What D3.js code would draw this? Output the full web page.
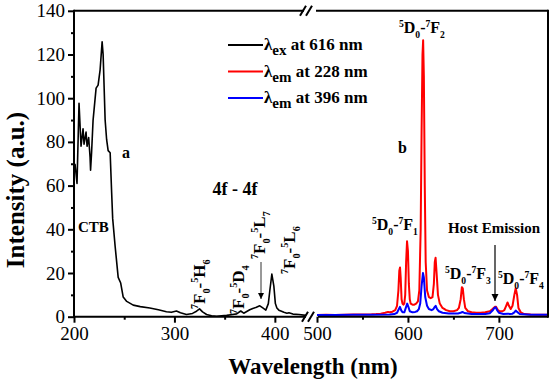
<!DOCTYPE html>
<html><head><meta charset="utf-8">
<script src="https://cdn.jsdelivr.net/npm/d3@7"></script>
<style>body{margin:0;background:#fff}svg{display:block}</style>
</head><body>
<svg id="c" width="552" height="383"></svg>
<script>
// ---- data ----
const yTicks = [0, 20, 40, 60, 80, 100, 120, 140];
const xTicksLeft = [200, 300, 400];
const xTicksRight = [500, 600, 700];
const excNm = [201,203,205,207,209,210,212,213,214.6,216,216.5,217.5,219,222,224,226,228,229,231,232.5,234,236,237.5,238.5,241,244,246.5,249,252.5,259,266,275.5,284,292,297,302,306,312,318,322,325,328,332,337,342,347,352,358,362,366,369,372,375,378,381,385,388,391,393.5,395,397,399,400.5,402,404,406,409,412,414,418,424,431];
const excVal = [70,61,97.7,78,86,79,84.5,78,82,73,67,75,90,104.6,106,113,125.8,120,90,81,76,75,56.6,45,32,18,15.4,9,7,5.3,4.6,4,3.2,2.3,2,2.6,1.8,1,1.5,2.5,3.6,2.2,1,0.4,0.2,0.4,0.6,1,1.3,2.6,1.6,2.4,3.2,3.8,4.2,5,4,3,6,12,19.5,14,6,4,3,2.6,2,1.6,1.8,1.2,1,0.6];
const emRedNm = [500,510,520,530,540,550,560,565,570,575,578,580,583,586,588,589.5,590.5,591.3,592,593,594,595,596,597,598,599,600,601,602,603,605,607,609,611,612.5,614,615,616,616.7,617.5,618.5,619.5,621,623,625,627,628.5,629.5,630.4,631.5,633,635,638,642,646,650,654,656,658,659.3,660.3,661.5,663,666,670,675,680,685,690,693,695.5,697,699,701,704,706,708,709.5,711,713,715,717,718.5,720,721.5,724,728,735,745,754];
const emRedVal = [0.8,0.9,0.8,0.9,1.0,1.0,1.1,1.2,1.4,1.8,2.2,2.0,2.3,3.0,5,12,21,22.5,18,8,6,5.5,6,10,25,34.5,30,15,8,6,5.5,5.5,6,7,12,40,85,120,126.5,110,60,25,12,9,8.5,9,15,25,27,20,10,6,4,3,2.5,2.5,3,4,8,13.5,13,8,4,2.5,2,1.8,1.8,2,2.5,3.5,4.5,4.5,3,2.5,2.5,3,5,6.5,5,3.5,5,10,13,10,4,2,1.2,1,0.9,0.9];
const emBlueNm = [500,520,540,560,580,585,588,590,591.2,592.5,594,596,598,599.2,600.5,602,605,608,610,612,613.5,615,616.5,617.5,619,621,623,626,628,629.5,630.5,632,634,638,645,655,658,660,662,670,685,690,693,695,696.5,698,700,705,710,712,715,717,718.5,720,723,735,754];
const emBlueVal = [0.8,0.8,0.9,0.9,1.0,1.2,1.8,3.5,4.5,3,2,2,4.5,6,4.5,2.5,2,2.2,2.5,3.5,6,14,20,18,9,5,3.5,3,3.5,4.5,5,3.5,2.5,1.8,1.5,1.5,1.8,2.2,1.7,1.2,1.2,1.6,2.8,4,4.3,3,1.8,1.2,1.4,1.2,1.4,2,2.8,2.2,1.2,0.9,0.9];
const legendLabels = [["ex", " at 616 nm"], ["em", " at 228 nm"], ["em", " at 396 nm"]];
const legendColors = ["#000000", "#ff0000", "#0000ff"];

const FONT = '"Liberation Serif"';
// ---- scales ----
const svg = d3.select("#c");
const L = 74, R = 548, T = 10.8, B = 316.7;
const xL = d3.scaleLinear().domain([200, 432]).range([L, 307]);
const xR = d3.scaleLinear().domain([500, 754]).range([317, R]);
const y = d3.scaleLinear().domain([0, 140]).range([B, T]);

// ---- curves ----
const line = (xs) => d3.line().x(d => xs(d[0])).y(d => y(d[1]));
const zip = (a, b) => a.map((v, i) => [v, b[i]]);
svg.append("path").datum(zip(excNm, excVal)).attr("d", line(xL)).attr("fill", "none").attr("stroke", "#000").attr("stroke-width", 1.6).attr("stroke-linejoin","round");
svg.append("path").datum(zip(emRedNm, emRedVal)).attr("d", line(xR)).attr("fill", "none").attr("stroke", "#ff0000").attr("stroke-width", 2).attr("stroke-linejoin","round");
svg.append("path").datum(zip(emBlueNm, emBlueVal)).attr("d", line(xR)).attr("fill", "none").attr("stroke", "#0000ff").attr("stroke-width", 2).attr("stroke-linejoin","round");

// ---- axes ----
function styleAxis(g) {
  g.select(".domain").remove();
  g.selectAll("line").attr("stroke", "#000").attr("stroke-width", 2);
  g.selectAll("text").attr("font-size", 19).attr("fill", "#000").style("font-family", FONT);
}
const ay = svg.append("g").attr("transform", `translate(${L},0)`).call(d3.axisLeft(y).tickValues(yTicks).tickSize(6).tickPadding(3).tickFormat(d3.format("d")));
styleAxis(ay);
const ayMinor = svg.append("g").attr("transform", `translate(${L},0)`).call(d3.axisLeft(y).tickValues([10,30,50,70,90,110,130]).tickSize(3).tickFormat(""));
styleAxis(ayMinor);
const axL = svg.append("g").attr("transform", `translate(0,${B})`).call(d3.axisBottom(xL).tickValues(xTicksLeft).tickSize(6).tickPadding(4).tickFormat(d3.format("d")));
styleAxis(axL);
const axLm = svg.append("g").attr("transform", `translate(0,${B})`).call(d3.axisBottom(xL).tickValues([250, 350]).tickSize(3).tickFormat(""));
styleAxis(axLm);
const axR = svg.append("g").attr("transform", `translate(0,${B})`).call(d3.axisBottom(xR).tickValues(xTicksRight).tickSize(6).tickPadding(4).tickFormat(d3.format("d")));
styleAxis(axR);
const axRm = svg.append("g").attr("transform", `translate(0,${B})`).call(d3.axisBottom(xR).tickValues([550, 650]).tickSize(3).tickFormat(""));
styleAxis(axRm);

// frame with breaks
const fr = svg.append("g").attr("stroke", "#000").attr("stroke-width", 2).attr("fill", "none");
fr.append("line").attr("x1", L).attr("x2", L).attr("y1", T - 1).attr("y2", B + 1);
fr.append("line").attr("x1", R).attr("x2", R).attr("y1", T - 1).attr("y2", B + 1);
fr.append("line").attr("x1", L).attr("x2", 304).attr("y1", T).attr("y2", T);
fr.append("line").attr("x1", 316).attr("x2", R).attr("y1", T).attr("y2", T);
fr.append("line").attr("x1", L).attr("x2", 306).attr("y1", B).attr("y2", B);
fr.append("line").attr("x1", 318).attr("x2", R).attr("y1", B).attr("y2", B);
[[303, T], [309, T], [305, B], [311, B]].forEach(([cx, cy]) => {
  fr.append("line").attr("x1", cx - 3).attr("x2", cx + 3).attr("y1", cy + 5).attr("y2", cy - 5);
});

function txt(x, yv, s, size, anchor) {
  return svg.append("text").attr("x", x).attr("y", yv).attr("text-anchor", anchor || "start")
    .attr("font-size", size).attr("font-weight", "bold").style("font-family", FONT).text(s);
}
// titles
txt(313, 374, "Wavelength (nm)", 23, "middle");
svg.append("text").attr("transform", "translate(24,190) rotate(-90)").attr("text-anchor", "middle").attr("font-size", 25).attr("font-weight", "bold").style("font-family", FONT).text("Intensity (a.u.)");

// legend
legendLabels.forEach((lb, i) => {
  const yy = 45 + i * 26.5;
  svg.append("line").attr("x1", 228).attr("x2", 263).attr("y1", yy).attr("y2", yy).attr("stroke", legendColors[i]).attr("stroke-width", 2);
  const t = svg.append("text").attr("x", 264).attr("y", yy + 5).attr("font-size", 17).attr("font-weight", "bold").style("font-family", FONT);
  t.append("tspan").text("λ");
  t.append("tspan").attr("dy", 5).attr("font-size", 15).text(lb[0]);
  t.append("tspan").attr("dy", -5).text(lb[1]);
});

// rich text helper
function rich(x, yv, parts, size, rot) {
  const t = svg.append("text").attr("font-weight", "bold").attr("font-size", size).style("font-family", FONT)
    .attr("transform", `translate(${x},${yv})` + (rot ? " rotate(-90)" : ""));
  let cur = 0;
  parts.forEach(p => {
    const off = p[1] === "sup" ? -size * 0.4 : p[1] === "sub" ? size * 0.3 : 0;
    const ts = t.append("tspan").attr("dy", off - cur).text(p[0]);
    if (p[1]) ts.attr("font-size", size * 0.6);
    cur = off;
  });
  return t;
}
const trans = (a, b, c, d) => [[a, "sup"], [b], ["0", "sub"], ["-"], [c, "sup"], [d[0]], [d[1], "sub"]];
rich(399, 33, trans("5", "D", "7", "F2"), 16);
rich(372, 230, trans("5", "D", "7", "F1"), 16);
rich(445, 279, trans("5", "D", "7", "F3"), 16);
rich(498, 284, trans("5", "D", "7", "F4"), 16);
rich(205, 309, trans("7", "F", "5", "H6"), 17, true);
rich(244, 314, trans("7", "F", "5", "D4"), 17, true);
rich(265, 259, trans("7", "F", "5", "L7"), 17, true);
rich(295, 274, trans("7", "F", "5", "L6"), 17, true);

txt(494, 233, "Host Emission", 15, "middle");
txt(235, 195, "4f - 4f", 18, "middle");
txt(78, 232, "CTB", 15);
txt(122, 158, "a", 16);
txt(398, 153, "b", 16);

// arrows
svg.append("defs").append("marker").attr("id", "ah").attr("viewBox", "0 0 10 10").attr("refX", 10).attr("refY", 5)
  .attr("markerWidth", 6).attr("markerHeight", 6).attr("orient", "auto")
  .append("path").attr("d", "M0,0L10,5L0,10z").attr("fill", "#000");
svg.append("line").attr("x1", 261).attr("x2", 261).attr("y1", 262).attr("y2", 299).attr("stroke", "#333").attr("stroke-width", 1).attr("marker-end", "url(#ah)");
svg.append("line").attr("x1", 495).attr("x2", 495).attr("y1", 245).attr("y2", 301).attr("stroke", "#000").attr("stroke-width", 1.2).attr("marker-end", "url(#ah)");
</script>
</body></html>
